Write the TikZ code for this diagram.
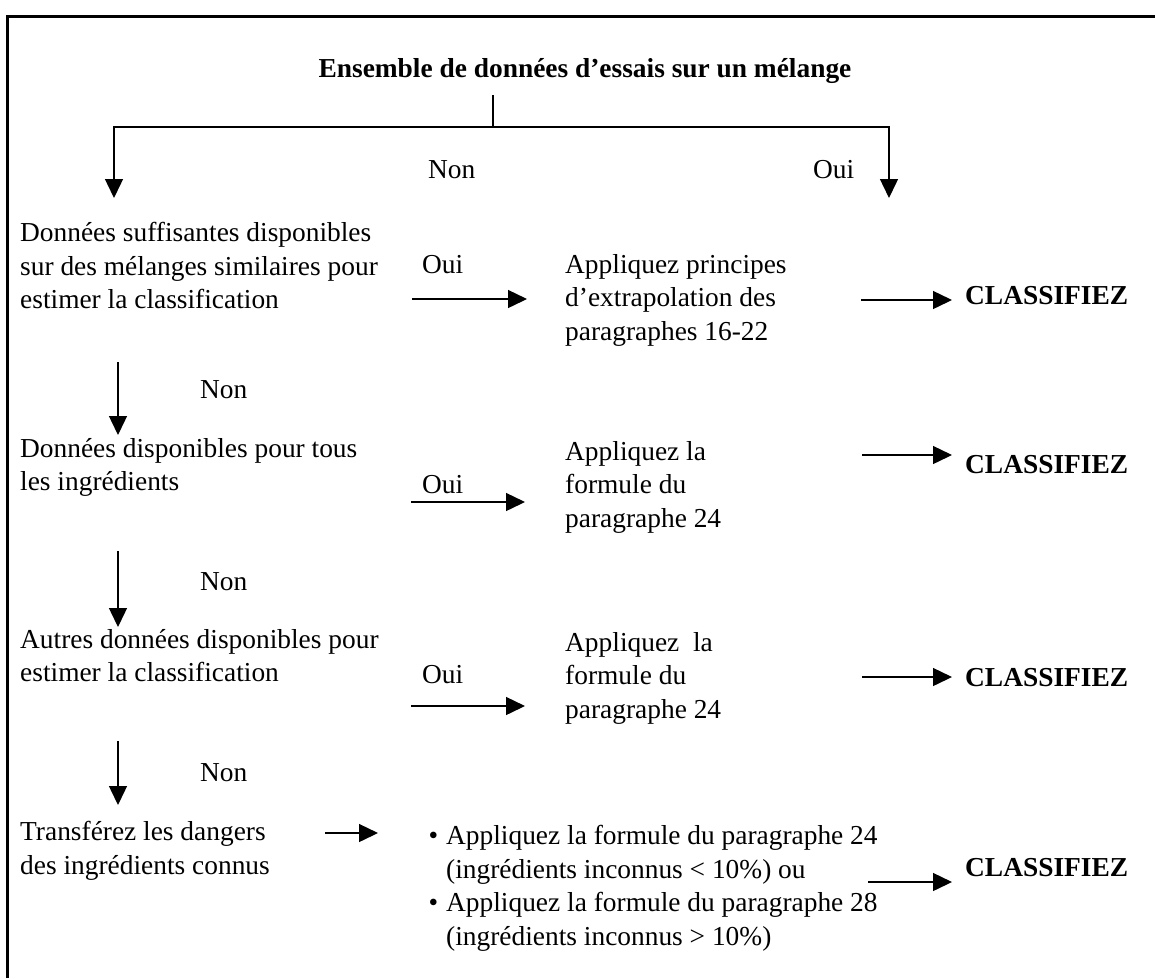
\documentclass[tikz,border=0pt]{standalone}
\usepackage{fontspec}
\setmainfont{Liberation Serif}
\usetikzlibrary{arrows.meta}
\begin{document}
\begin{tikzpicture}[x=1pt,y=-1pt,
  txt/.style={anchor=north west, inner sep=0pt, align=left, font=\fontsize{27.4}{33.5}\selectfont},
  lbl/.style={anchor=base west, inner sep=0pt, font=\fontsize{27.4}{33.5}\selectfont},
  res/.style={anchor=base west, inner sep=0pt, font=\fontsize{27.4}{33.5}\selectfont\bfseries},
  arr/.style={line width=1.4pt, -{Triangle[length=19pt,width=18pt]}},
  ln/.style={line width=1.4pt},
  frame/.style={line width=3.5pt}]
\useasboundingbox (0,0) rectangle (1155,978);
% frame (top and left)
\draw[frame] (7.5,978) -- (7.5,16.5) -- (1155,16.5);
% title
\node[anchor=base, inner sep=0pt, font=\fontsize{27.4}{33.5}\selectfont\bfseries] (title) at (585,77) {Ensemble de données d’essais sur un mélange};
\coordinate (stemtop) at (493,95);
\coordinate (stembot) at (493,127);
\coordinate (hl) at (114,127);
\coordinate (hr) at (889,127);
\coordinate (tl) at (114,198);
\coordinate (tr) at (889,198);
\draw[ln] (stemtop) -- (stembot);
\draw[arr] (stembot) -- (hl) -- (tl);
\draw[arr] (stembot) -- (hr) -- (tr);
\node[lbl] (non0) at (428,178) {Non};
\node[lbl] (oui0) at (813,178) {Oui};
% row 1
\node[txt] (q1) at (20,222) {Données suffisantes disponibles\\sur des mélanges similaires pour\\estimer la classification};
\node[lbl] (oui1) at (422,273) {Oui};
\node[txt] (a1) at (565,254) {Appliquez principes\\d’extrapolation des\\paragraphes 16-22};
\node[res] (c1) at (965,304) {CLASSIFIEZ};
\coordinate (o1s) at (412,299); \coordinate (o1e) at (527,299);
\draw[arr] (o1s) -- (o1e);
\coordinate (c1s) at (861,300); \coordinate (c1e) at (952,300);
\draw[arr] (c1s) -- (c1e);
% down 1
\coordinate (d1s) at (118,362); \coordinate (d1e) at (118,435);
\draw[arr] (d1s) -- (d1e);
\node[lbl] (non1) at (200,398) {Non};
% row 2
\node[txt] (q2) at (20,438) {Données disponibles pour tous\\les ingrédients};
\node[lbl] (oui2) at (422,493) {Oui};
\node[txt] (a2) at (565,441) {Appliquez la\\formule du\\paragraphe 24};
\node[res] (c2) at (965,473) {CLASSIFIEZ};
\coordinate (o2s) at (411,502); \coordinate (o2e) at (525,502);
\draw[arr] (o2s) -- (o2e);
\coordinate (c2s) at (862,455); \coordinate (c2e) at (952,455);
\draw[arr] (c2s) -- (c2e);
% down 2
\coordinate (d2s) at (118,551); \coordinate (d2e) at (118,627);
\draw[arr] (d2s) -- (d2e);
\node[lbl] (non2) at (200,590) {Non};
% row 3
\node[txt] (q3) at (20,629) {Autres données disponibles pour\\estimer la classification};
\node[lbl] (oui3) at (422,683) {Oui};
\node[txt] (a3) at (565,632) {Appliquez\ \ la\\formule du\\paragraphe 24};
\node[res] (c3) at (965,686) {CLASSIFIEZ};
\coordinate (o3s) at (411,706); \coordinate (o3e) at (525,706);
\draw[arr] (o3s) -- (o3e);
\coordinate (c3s) at (862,677); \coordinate (c3e) at (952,677);
\draw[arr] (c3s) -- (c3e);
% down 3
\coordinate (d3s) at (118,741); \coordinate (d3e) at (118,805);
\draw[arr] (d3s) -- (d3e);
\node[lbl] (non3) at (200,781) {Non};
% row 4
\node[txt] (q4) at (20,821) {Transférez les dangers\\des ingrédients connus};
\coordinate (t4s) at (325,833); \coordinate (t4e) at (378,833);
\draw[arr] (t4s) -- (t4e);
\node[txt] (a4) at (446,825) {\llap{•\hspace{8pt}}Appliquez la formule du paragraphe 24\\(ingrédients inconnus < 10\%) ou\\\llap{•\hspace{8pt}}Appliquez la formule du paragraphe 28\\(ingrédients inconnus > 10\%)};
\node[res] (c4) at (965,876) {CLASSIFIEZ};
\coordinate (c4s) at (868,882); \coordinate (c4e) at (952,882);
\draw[arr] (c4s) -- (c4e);
\end{tikzpicture}
\end{document}
